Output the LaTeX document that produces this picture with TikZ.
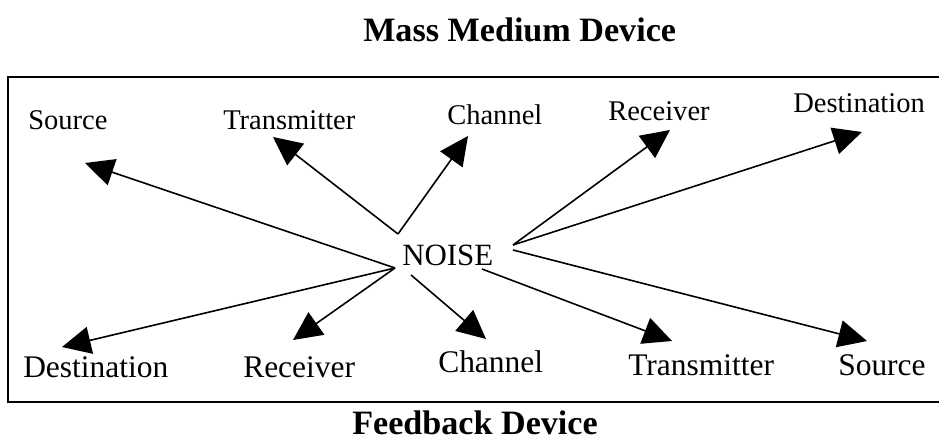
\documentclass[tikz,border=0pt]{standalone}
\usepackage{fontspec}
\setmainfont{Liberation Serif}
\usetikzlibrary{arrows.meta}
\begin{document}
\begin{tikzpicture}[x=0.75pt,y=-0.75pt,
  toplab/.style={anchor=base west,inner sep=0pt,font=\fontsize{21.4}{24}\selectfont},
  botlab/.style={anchor=base west,inner sep=0pt,font=\fontsize{23.6}{26}\selectfont},
  title/.style={anchor=base west,inner sep=0pt,font=\fontsize{25.6}{28}\selectfont\bfseries},
  arr/.style={line width=1.2pt,-{Triangle[length=21.5pt,width=20.5pt]}},
  frame/.style={line width=1.4pt}]
\useasboundingbox (0,0) rectangle (939,441);
\draw[frame] (8,77) rectangle (942,402);
\node[title] (t1) at (363,42) {Mass Medium Device};
\node[title] (t2) at (352,435) {Feedback Device};
\node[anchor=base west,inner sep=0pt,font=\fontsize{23.2}{26}\selectfont] (noise) at (402,266) {NOISE};
% top labels
\node[toplab] (tsrc) at (28,130) {Source};
\node[toplab] (ttx) at (223,130) {Transmitter};
\node[toplab] (tch) at (447,125) {Channel};
\node[toplab] (trx) at (608,121) {Receiver};
\node[toplab] (tdst) at (793,113) {Destination};
% bottom labels
\node[botlab] (bdst) at (23,378) {Destination};
\node[botlab] (brx) at (243,378) {Receiver};
\node[botlab] (bch) at (438,373) {Channel};
\node[botlab] (btx) at (628,376) {Transmitter};
\node[botlab] (bsrc) at (838,376) {Source};
% start points
\coordinate (s1) at (395,268);
\coordinate (s2) at (398,234);
\coordinate (s3) at (513,245);
\coordinate (s4) at (513,250);
\coordinate (s5) at (411,275);
\coordinate (s6) at (482,269);
% tips
\coordinate (e1) at (85,163);
\coordinate (e2) at (273,137);
\coordinate (e3) at (468,136);
\coordinate (e4) at (670,130);
\coordinate (e5) at (862,132);
\coordinate (f1) at (62,347);
\coordinate (f2) at (293,340);
\coordinate (f3) at (486,339);
\coordinate (f4) at (672,341);
\coordinate (f5) at (867,341);
\draw[arr] (s1) -- (e1);
\draw[arr] (s2) -- (e2);
\draw[arr] (s2) -- (e3);
\draw[arr] (s3) -- (e4);
\draw[arr] (s3) -- (e5);
\draw[arr] (s1) -- (f1);
\draw[arr] (s1) -- (f2);
\draw[arr] (s5) -- (f3);
\draw[arr] (s6) -- (f4);
\draw[arr] (s4) -- (f5);
\end{tikzpicture}
\end{document}
